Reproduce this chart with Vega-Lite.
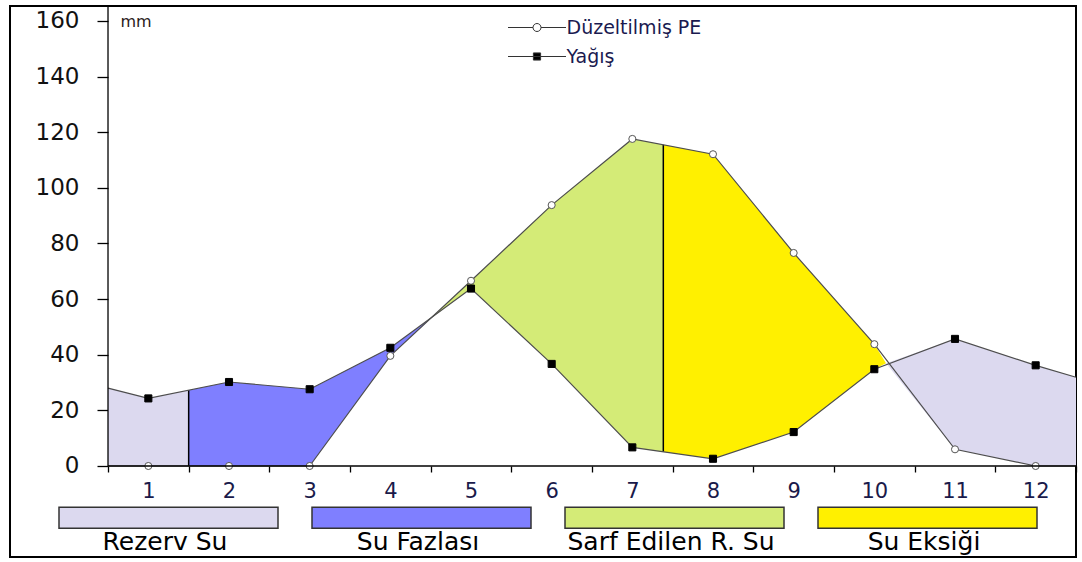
{
  "$schema": "https://vega.github.io/schema/vega-lite/v6.json",
  "width": 1066,
  "height": 551,
  "autosize": {"type": "none"},
  "padding": {"left": 10, "top": 6, "right": 6, "bottom": 5},
  "background": "white",
  "config": {"view": {"stroke": "#000", "strokeWidth": 2}, "font": "DejaVu Sans"},
  "datasets": {
    "wb": [
      {"month": 0.5, "Düzeltilmiş PE": 0, "Yağış": 28.0},
      {"month": 1, "Düzeltilmiş PE": 0, "Yağış": 24.3},
      {"month": 2, "Düzeltilmiş PE": 0, "Yağış": 30.2},
      {"month": 3, "Düzeltilmiş PE": 0, "Yağış": 27.6},
      {"month": 4, "Düzeltilmiş PE": 39.6, "Yağış": 42.5},
      {"month": 5, "Düzeltilmiş PE": 66.6, "Yağış": 63.8},
      {"month": 6, "Düzeltilmiş PE": 93.8, "Yağış": 36.7},
      {"month": 7, "Düzeltilmiş PE": 117.6, "Yağış": 6.7},
      {"month": 8, "Düzeltilmiş PE": 112.1, "Yağış": 2.6},
      {"month": 9, "Düzeltilmiş PE": 76.6, "Yağış": 12.2},
      {"month": 10, "Düzeltilmiş PE": 43.8, "Yağış": 34.8},
      {"month": 11, "Düzeltilmiş PE": 6.0, "Yağış": 45.7},
      {"month": 12, "Düzeltilmiş PE": 0, "Yağış": 36.2},
      {"month": 12.5, "Düzeltilmiş PE": 0, "Yağış": 31.9}
    ],
    "zones": [
      {"zone": "Rezerv Su", "part": "a", "month": 0.5, "lo": 0, "hi": 28.0},
      {"zone": "Rezerv Su", "part": "a", "month": 1, "lo": 0, "hi": 24.3},
      {"zone": "Rezerv Su", "part": "a", "month": 1.5, "lo": 0, "hi": 27.25},
      {"zone": "Su Fazlası", "part": "b", "month": 1.5, "lo": 0, "hi": 27.25},
      {"zone": "Su Fazlası", "part": "b", "month": 2, "lo": 0, "hi": 30.2},
      {"zone": "Su Fazlası", "part": "b", "month": 3, "lo": 0, "hi": 27.6},
      {"zone": "Su Fazlası", "part": "b", "month": 4, "lo": 39.6, "hi": 42.5},
      {"zone": "Su Fazlası", "part": "b", "month": 4.51, "lo": 53.3, "hi": 53.3},
      {"zone": "Sarf Edilen R. Su", "part": "c", "month": 4.51, "lo": 53.3, "hi": 53.3},
      {"zone": "Sarf Edilen R. Su", "part": "c", "month": 5, "lo": 63.8, "hi": 66.6},
      {"zone": "Sarf Edilen R. Su", "part": "c", "month": 6, "lo": 36.7, "hi": 93.8},
      {"zone": "Sarf Edilen R. Su", "part": "c", "month": 7, "lo": 6.7, "hi": 117.6},
      {"zone": "Sarf Edilen R. Su", "part": "c", "month": 7.384, "lo": 5.1, "hi": 115.5},
      {"zone": "Su Eksiği", "part": "d", "month": 7.384, "lo": 5.1, "hi": 115.5},
      {"zone": "Su Eksiği", "part": "d", "month": 8, "lo": 2.6, "hi": 112.1},
      {"zone": "Su Eksiği", "part": "d", "month": 9, "lo": 12.2, "hi": 76.6},
      {"zone": "Su Eksiği", "part": "d", "month": 10, "lo": 34.8, "hi": 43.8},
      {"zone": "Su Eksiği", "part": "d", "month": 10.145, "lo": 36.9, "hi": 36.9},
      {"zone": "Rezerv Su", "part": "e", "month": 10.145, "lo": 36.9, "hi": 36.9},
      {"zone": "Rezerv Su", "part": "e", "month": 11, "lo": 6.0, "hi": 45.7},
      {"zone": "Rezerv Su", "part": "e", "month": 12, "lo": 0, "hi": 36.2},
      {"zone": "Rezerv Su", "part": "e", "month": 12.5, "lo": 0, "hi": 31.9}
    ],
    "dividers": [
      {"month": 1.5, "lo": 0, "hi": 27.25},
      {"month": 7.384, "lo": 5.1, "hi": 115.5}
    ]
  },
  "layer": [
    {
      "data": {"name": "zones"},
      "mark": {"type": "area", "opacity": 1},
      "encoding": {
        "x": {
          "field": "month", "type": "quantitative",
          "scale": {"domain": [-0.715, 12.5], "nice": false, "zero": false},
          "axis": {
            "orient": "bottom", "offset": -91, "domain": false, "grid": false,
            "values": [0.5, 1.5, 2.5, 3.5, 4.5, 5.5, 6.5, 7.5, 8.5, 9.5, 10.5, 11.5, 12.5],
            "labelExpr": "datum.value < 12 ? format(datum.value + 0.5, 'd') : ''",
            "labelOffset": 40.33, "labelFlush": false, "labelOverlap": false, "labelBound": false,
            "tickSize": 6, "tickColor": "#000", "tickWidth": 1.3,
            "labelFontSize": 21, "labelFont": "DejaVu Sans", "labelColor": "#1a1a4a", "labelPadding": 8,
            "title": null
          }
        },
        "y": {
          "field": "lo", "type": "quantitative",
          "scale": {"domain": [-32.72, 165.39], "nice": false, "zero": false},
          "axis": {
            "orient": "left", "offset": -98, "domain": false, "grid": false,
            "values": [0, 20, 40, 60, 80, 100, 120, 140, 160],
            "tickSize": 11, "tickColor": "#000", "tickWidth": 1.3,
            "labelFontSize": 23, "labelFont": "DejaVu Sans", "labelColor": "#111", "labelPadding": 18,
            "labelOverlap": false, "labelFlush": false, "labelBound": false,
            "title": "mm", "titleAngle": 0, "titleX": 12, "titleY": 15, "titleAlign": "left", "titleBaseline": "middle",
            "titleFontSize": 16, "titleFontWeight": "normal", "titleColor": "#2a1a1a", "titleFont": "DejaVu Sans"
          }
        },
        "y2": {"field": "hi"},
        "fill": {
          "field": "zone", "type": "nominal",
          "scale": {
            "domain": ["Rezerv Su", "Su Fazlası", "Sarf Edilen R. Su", "Su Eksiği"],
            "range": ["#dcd9ef", "#7f7fff", "#d4eb77", "#fff000"]
          },
          "legend": {
            "orient": "none", "legendX": 48, "legendY": 401, "direction": "horizontal", "columns": 4,
            "title": null, "padding": 0,
            "symbolType": "M-1,-0.0959H1V0.0959H-1Z", "symbolSize": 47961,
            "symbolStrokeColor": "#333", "symbolStrokeWidth": 1.5, "symbolOpacity": 1,
            "columnPadding": 28, "labelOffset": -110, "labelAlign": "center",
            "labelFontSize": 25, "labelFont": "DejaVu Sans", "labelColor": "#000", "labelLimit": 400,
            "encode": {
              "labels": {"update": {"dy": {"value": 24}, "dx": {"value": -4}}},
              "symbols": {"update": {"stroke": {"value": "#333"}, "strokeWidth": {"value": 1.5}, "opacity": {"value": 1}}}
            }
          }
        },
        "detail": {"field": "part"}
      }
    },
    {
      "data": {"name": "dividers"},
      "mark": {"type": "rule", "color": "#000", "strokeWidth": 1.5},
      "encoding": {
        "x": {"field": "month", "type": "quantitative"},
        "y": {"field": "lo", "type": "quantitative"},
        "y2": {"field": "hi"}
      }
    },
    {
      "data": {"name": "wb"},
      "transform": [{"fold": ["Düzeltilmiş PE", "Yağış"], "as": ["series", "value"]}],
      "mark": {"type": "line", "color": "#4d4d4d", "strokeWidth": 1.2},
      "encoding": {
        "x": {"field": "month", "type": "quantitative"},
        "y": {"field": "value", "type": "quantitative"},
        "detail": {"field": "series"}
      }
    },
    {
      "data": {"name": "wb"},
      "transform": [
        {"fold": ["Düzeltilmiş PE", "Yağış"], "as": ["series", "value"]},
        {"filter": "datum.month >= 1 && datum.month <= 12"}
      ],
      "mark": {"type": "point", "filled": true, "size": 50, "opacity": 1, "strokeWidth": 1},
      "encoding": {
        "x": {"field": "month", "type": "quantitative"},
        "y": {"field": "value", "type": "quantitative"},
        "shape": {"condition": {"test": "datum.series === 'Yağış'", "value": "square"}, "value": "circle"},
        "fill": {"condition": {"test": "datum.series === 'Yağış'", "value": "#000"}, "value": "#fff"},
        "stroke": {"condition": {"test": "datum.series === 'Yağış'", "value": "#000"}, "value": "#555"}
      }
    },
    {
      "data": {"name": "wb"},
      "transform": [
        {"fold": ["Düzeltilmiş PE", "Yağış"], "as": ["series", "value"]},
        {"filter": "datum.month >= 1 && datum.month <= 12"}
      ],
      "mark": {"type": "point", "filled": true, "size": 50, "opacity": 0},
      "encoding": {
        "x": {"field": "month", "type": "quantitative"},
        "y": {"field": "value", "type": "quantitative"},
        "shape": {
          "field": "series", "type": "nominal",
          "scale": {
            "domain": ["Düzeltilmiş PE", "Yağış"],
            "range": ["M-7.25,0H-1M1,0H7.25M-1,0A1,1,0,1,0,1,0A1,1,0,1,0,-1,0Z", "M-7.25,0H7.25M-0.9,-0.9H0.9V0.9H-0.9Z"]
          },
          "legend": {
            "orient": "none", "legendX": 493, "legendY": 12, "direction": "vertical",
            "title": null, "padding": 0,
            "symbolSize": 64, "symbolOffset": 24.5, "labelOffset": 20, "rowPadding": 9,
            "symbolOpacity": 1, "symbolStrokeColor": "#333", "symbolStrokeWidth": 1,
            "labelFontSize": 19, "labelFont": "DejaVu Sans", "labelColor": "#1a1a50",
            "encode": {"symbols": {"update": {"stroke": {"value": "#333"}, "strokeWidth": {"value": 1}, "opacity": {"value": 1}}}}
          }
        },
        "color": {
          "field": "series", "type": "nominal",
          "scale": {"domain": ["Düzeltilmiş PE", "Yağış"], "range": ["#ffffff", "#000000"]},
          "legend": {
            "orient": "none", "legendX": 493, "legendY": 12, "direction": "vertical",
            "title": null, "padding": 0,
            "symbolSize": 64, "symbolOffset": 24.5, "labelOffset": 20, "rowPadding": 9,
            "symbolOpacity": 1, "symbolStrokeColor": "#333", "symbolStrokeWidth": 1,
            "labelFontSize": 19, "labelFont": "DejaVu Sans", "labelColor": "#1a1a50",
            "encode": {"symbols": {"update": {"stroke": {"value": "#333"}, "strokeWidth": {"value": 1}, "opacity": {"value": 1}}}}
          }
        }
      }
    },
    {
      "data": {"values": [{}]},
      "mark": {"type": "rule", "color": "#000", "strokeWidth": 1.3},
      "encoding": {"x": {"datum": 0.5, "type": "quantitative"}, "y": {"datum": 0, "type": "quantitative"}, "y2": {"datum": 165.39}}
    },
    {
      "data": {"values": [{}]},
      "mark": {"type": "rule", "color": "#000", "strokeWidth": 1.3},
      "encoding": {"x": {"datum": 0.5, "type": "quantitative"}, "x2": {"datum": 12.5}, "y": {"datum": 0, "type": "quantitative"}}
    }
  ]
}
